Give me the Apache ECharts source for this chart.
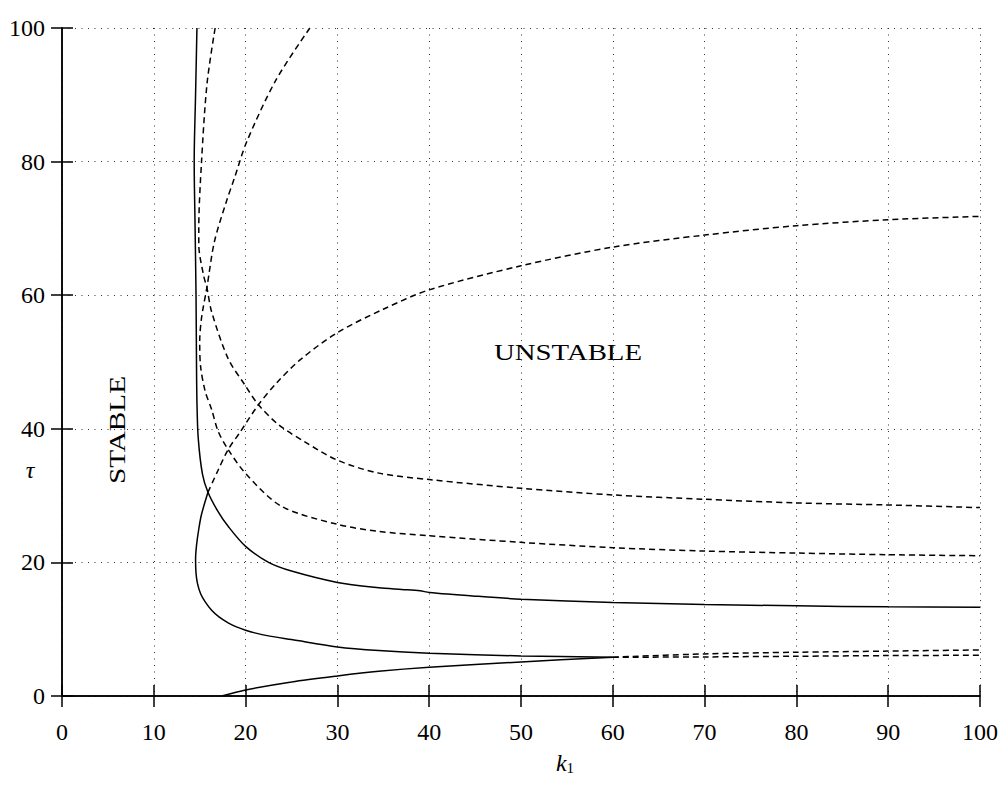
<!DOCTYPE html>
<html><head><meta charset="utf-8">
<script src="https://cdn.jsdelivr.net/npm/echarts@6/dist/echarts.min.js"></script>
<style>html,body{margin:0;padding:0;background:#fff}#c{width:1006px;height:793px}</style>
</head><body><div id="c"></div>
<script>
// tick labels
const xTickLabels = [0, 10, 20, 30, 40, 50, 60, 70, 80, 90, 100];
const yTickLabels = [0, 20, 40, 60, 80, 100];

// solid boundary, upper branch (k1, tau)
const curveA = [[14.7,100],[14.55,90],[14.4,80],[14.5,70],[14.6,60],[14.65,50],[14.7,44],[14.84,38.6],[15.3,33.2],[15.9,30.5],[17.0,27.6],[18.1,25.4],[20,22.4],[22.5,20.0],[25,18.7],[30,17.0],[34.5,16.2],[37,15.95],[39,15.75],[40,15.5],[45,14.95],[50,14.5],[60,14.0],[70,13.7],[80,13.5],[90,13.35],[100,13.3]];
// solid boundary, middle branch
const curveBSolid = [[60,5.8],[50,6.0],[40,6.4],[34.5,6.8],[30,7.35],[25,8.45],[22.5,9.0],[21,9.45],[20,9.85],[19,10.35],[18.1,10.95],[17.1,11.85],[16.3,12.85],[15.6,14.1],[15.1,15.3],[14.75,16.9],[14.6,18.4],[14.55,20.4],[14.65,22.5],[14.9,25.0],[15.2,27.2],[15.9,30.5]];
// dashed continuation of the middle branch
const curveBDashed = [[15.9,30.5],[17,33.8],[18.1,36.9],[19.4,39.5],[21.4,43.6],[23.4,46.9],[26,50.4],[30,54.4],[35,57.9],[40,60.8],[50,64.4],[60,67.2],[70,69.0],[80,70.4],[90,71.3],[100,71.8]];
// dashed tail from the cusp
const curveBTail = [[60,5.8],[70,5.85],[80,5.95],[90,6.05],[100,6.1]];
// solid lower branch
const curveCSolid = [[17.4,0],[20,0.9],[25,2.1],[30,3.0],[34.5,3.7],[40,4.3],[50,5.1],[60,5.8]];
const curveCDashed = [[60,5.8],[70,6.3],[80,6.55],[90,6.72],[100,6.9]];
// dashed curves
const curveD1 = [[16.68,100],[15.8,91.7],[15.2,80],[14.9,70],[14.9,67.6],[15.4,63.1],[15.8,61.0],[16.3,57.5],[18.1,50.5],[19.9,46.6],[21.4,43.6],[23.6,40.6],[26.5,38.0],[30,35.3],[34.4,33.4],[40,32.4],[50,31.1],[60,30.1],[70,29.45],[80,28.9],[90,28.6],[100,28.2]];
const curveD2 = [[27.0,100],[23.3,92.2],[20.1,82.9],[18.8,77.6],[17.9,74.0],[16.6,68.0],[15.8,61.3],[15.2,56.6],[15.0,53.0],[15.1,49.3],[15.6,45.6],[16.3,42.9],[17.0,39.65],[18.1,36.9],[20.1,33.15],[23.9,28.4],[30,25.7],[34.4,24.65],[40,24.0],[50,23.0],[60,22.2],[70,21.7],[80,21.4],[90,21.15],[100,21.0]];

const FONT = 'Liberation Serif';
const chart = echarts.init(document.getElementById('c'), null, {renderer: 'svg'});

function solid(d){return {type:'line',data:d,showSymbol:false,smooth:0.3,lineStyle:{color:'#000',width:1.5,type:'solid'},z:5};}
function dashed(d){return {type:'line',data:d,showSymbol:false,smooth:0.3,lineStyle:{color:'#000',width:1.5,type:[6,4]},z:4};}

const gridLine = {show:true,lineStyle:{color:'#333',width:1,type:[1,5.5]}};
const axisLineStyle = {show:true,lineStyle:{color:'#000',width:1.5}};
const tick = {show:true,inside:true,length:11,lineStyle:{color:'#000',width:1.5}};

chart.setOption({
  animation:false,
  backgroundColor:'#fff',
  grid:{left:62,top:28,right:26,bottom:97,containLabel:false},
  xAxis:[
    {type:'value',min:0,max:100,interval:10,position:'bottom',
     axisLine:axisLineStyle,axisTick:tick,splitLine:gridLine,
     axisLabel:{show:true,margin:24,color:'#000',fontFamily:FONT,fontSize:24,
       formatter:v=>xTickLabels.includes(v)?String(v):''}},
    {type:'value',min:0,max:100,interval:10,position:'top',
     axisLine:axisLineStyle,axisTick:tick,splitLine:{show:false},axisLabel:{show:false}}
  ],
  yAxis:[
    {type:'value',min:0,max:100,interval:20,position:'left',
     axisLine:axisLineStyle,axisTick:tick,splitLine:gridLine,
     axisLabel:{show:true,margin:17,color:'#000',fontFamily:FONT,fontSize:24,
       formatter:v=>yTickLabels.includes(v)?String(v):''}},
    {type:'value',min:0,max:100,interval:20,position:'right',
     axisLine:axisLineStyle,axisTick:tick,splitLine:{show:false},axisLabel:{show:false}}
  ],
  series:[
    solid(curveA),
    solid(curveBSolid),
    dashed(curveBDashed),
    dashed(curveBTail),
    solid(curveCSolid),
    dashed(curveCDashed),
    dashed(curveD1),
    dashed(curveD2)
  ],
  graphic:[
    {type:'text',x:494,y:352,scaleX:1.2,style:{text:'UNSTABLE',font:'24px "Liberation Serif"',fill:'#000',align:'left',verticalAlign:'middle'}},
    {type:'text',x:117,y:430,rotation:Math.PI/2,scaleX:1.22,style:{text:'STABLE',font:'24px "Liberation Serif"',fill:'#000',align:'center',verticalAlign:'middle'}},
    {type:'text',x:565,y:763,style:{text:'{i|k}{s|1}',align:'center',verticalAlign:'middle',
      rich:{i:{fontFamily:FONT,fontStyle:'italic',fontSize:24,fill:'#000'},s:{fontFamily:FONT,fontSize:15,fill:'#000',verticalAlign:'bottom',padding:[10,0,0,0]}}}},
    {type:'text',x:30,y:470,style:{text:'τ',font:'italic 24px "Liberation Serif"',fill:'#000',align:'center',verticalAlign:'middle'}}
  ]
});
</script>
</body></html>
